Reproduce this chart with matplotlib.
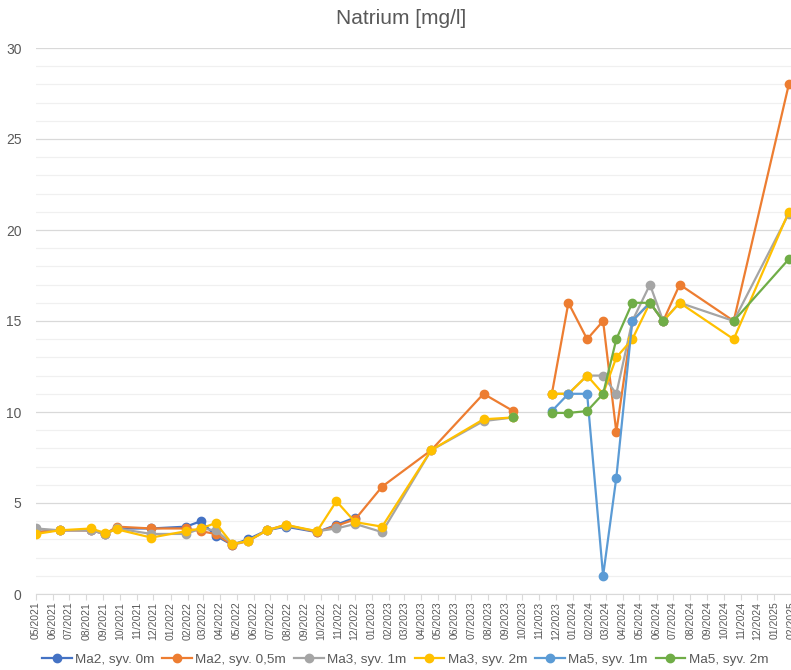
import numpy as np
import pandas as pd
import matplotlib

matplotlib.use("Agg")
import matplotlib.pyplot as plt
import matplotlib.dates as mdates
from matplotlib.ticker import MultipleLocator

nan = np.nan

# sampling dates (one empty row keeps the gap between 09/2023 and 11/2023)
DATES = pd.to_datetime([
    "2021-05-02", "2021-06-14", "2021-08-10", "2021-09-04", "2021-09-26",
    "2021-11-27", "2022-01-29", "2022-02-25", "2022-03-24", "2022-04-23",
    "2022-05-21", "2022-06-25", "2022-07-29", "2022-09-24", "2022-10-29",
    "2022-12-02", "2023-01-20", "2023-04-19", "2023-07-23", "2023-09-15",
    "2023-10-20", "2023-11-24", "2023-12-24", "2024-01-27", "2024-02-25",
    "2024-03-20", "2024-04-18", "2024-05-20", "2024-06-13", "2024-07-13",
    "2024-10-19", "2025-01-27",
])

MA2_0M = [3.4, 3.5, 3.5, 3.3, 3.6, 3.6, 3.7, 4.0, 3.2, 2.7,
          3.0, 3.5, 3.7, 3.4, 3.8, 4.2, nan, nan, nan, nan,
          nan, nan, nan, nan, nan, nan, nan, nan, nan, nan,
          nan, nan]
MA2_05M = [3.4, 3.5, 3.5, 3.3, 3.7, 3.6, 3.6, 3.45, 3.3, 2.7,
           2.9, 3.5, 3.8, 3.4, 3.75, 4.1, 5.9, 7.9, 11.0, 10.05,
           nan, 11.0, 16.0, 14.0, 15.0, 8.9, 15.0, 16.0, 15.0, 17.0,
           15.0, 28.0]
MA3_1M = [3.6, 3.5, 3.5, 3.3, 3.6, 3.3, 3.3, 3.6, 3.5, 2.75,
          2.9, 3.5, 3.75, 3.45, 3.6, 3.85, 3.4, 7.9, 9.5, 9.7,
          nan, 11.0, 11.0, 12.0, 12.0, 11.0, 15.0, 17.0, 15.0, 16.0,
          15.0, 20.9]
MA3_2M = [3.3, 3.5, 3.6, 3.35, 3.55, 3.1, 3.45, 3.6, 3.9, 2.75,
          2.9, 3.5, 3.8, 3.45, 5.1, 3.95, 3.7, 7.9, 9.6, 9.7,
          nan, 11.0, 11.0, 12.0, 11.0, 13.0, 14.0, 16.0, 15.0, 16.0,
          14.0, 21.0]
MA5_1M = [nan, nan, nan, nan, nan, nan, nan, nan, nan, nan,
          nan, nan, nan, nan, nan, nan, nan, nan, nan, nan,
          nan, 10.05, 11.0, 11.0, 1.0, 6.4, 15.0, 16.0, 15.0, nan,
          nan, nan]
MA5_2M = [nan, nan, nan, nan, nan, nan, nan, nan, nan, nan,
          nan, nan, nan, nan, nan, nan, nan, nan, nan, 9.75,
          nan, 9.95, 9.95, 10.05, 11.0, 14.0, 16.0, 16.0, 15.0, nan,
          15.0, 18.4]

SERIES = [
    ("Ma2, syv. 0m", MA2_0M, "#4472C4"),
    ("Ma2, syv. 0,5m", MA2_05M, "#ED7D31"),
    ("Ma3, syv. 1m", MA3_1M, "#A5A5A5"),
    ("Ma3, syv. 2m", MA3_2M, "#FFC000"),
    ("Ma5, syv. 1m", MA5_1M, "#5B9BD5"),
    ("Ma5, syv. 2m", MA5_2M, "#70AD47"),
]

W, H = 791, 670
plt.rcParams.update({"font.family": ["Liberation Sans", "DejaVu Sans"]})
fig = plt.figure(figsize=(W / 100, H / 100), dpi=100)
fig.patch.set_facecolor("white")

# plot area runs past the right edge of the picture, as in the reference crop
x0, x1 = pd.Timestamp("2021-05-01"), pd.Timestamp("2025-03-01")
ax = fig.add_axes([35.5 / W, 76 / H, 771.5 / W, 546 / H])

for name, vals, color in SERIES:
    ax.plot(DATES, vals, color=color, lw=1.6, marker="o", ms=6,
            mfc=color, mec=color, label=name, zorder=3)

ax.set_xlim(x0, x1)
ax.set_ylim(0, 30)
ax.yaxis.set_major_locator(MultipleLocator(5))
ax.yaxis.set_minor_locator(MultipleLocator(1))
ax.grid(axis="y", which="major", color="#d9d9d9", lw=0.9, zorder=0)
ax.grid(axis="y", which="minor", color="#f0f0f0", lw=0.9, zorder=0)
ax.set_axisbelow(True)

ax.xaxis.set_major_locator(mdates.MonthLocator(bymonthday=1))
ax.xaxis.set_major_formatter(mdates.DateFormatter("%m/%Y"))
ax.tick_params(axis="x", labelrotation=90, labelsize=7.5, labelcolor="#595959",
               color="#d9d9d9", length=4, pad=1.5)
ax.tick_params(axis="y", which="both", length=0, labelsize=10,
               labelcolor="#595959", pad=10)

for side in ("top", "right", "left"):
    ax.spines[side].set_visible(False)
ax.spines["bottom"].set_color("#d9d9d9")

fig.text(401 / W, 1 - 19 / H, "Natrium [mg/l]", ha="center", va="center",
         fontsize=15, color="#595959")

fig.legend(loc="center", bbox_to_anchor=(405 / W, 1 - 660 / H), ncol=6,
           frameon=False, fontsize=9.7, handlelength=2.2, handletextpad=0.25,
           columnspacing=0.6, labelcolor="#595959")

fig.savefig("out.png", dpi=100, facecolor="white")
